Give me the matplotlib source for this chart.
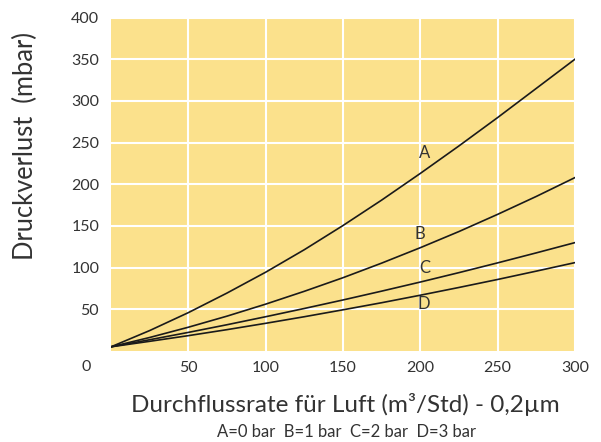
import matplotlib
matplotlib.use("Agg")
import matplotlib.pyplot as plt

plt.rcParams['font.family'] = ['Lato', 'DejaVu Sans']

# Durchflussrate (m3/Std) and Druckverlust (mbar) per pressure curve
flow = [0, 25, 50, 75, 100, 125, 150, 175, 200, 225, 250, 275, 300]
curve_a = [5, 24.5, 46, 69.5, 94.5, 121.5, 150.5, 181, 213, 246, 280, 315, 350]
curve_b = [5, 16.2, 28.5, 41.8, 56.2, 71.6, 87.9, 105.4, 123.9, 143.3, 163.9, 185.4, 208]
curve_c = [5, 13.5, 22.3, 31.5, 41.1, 51, 61.2, 71.8, 82.7, 94, 105.7, 117.7, 130]
curve_d = [5, 11.6, 18.4, 25.6, 33.2, 41.1, 49.4, 57.9, 66.9, 76.2, 85.8, 95.8, 106]
curve_names = ['A', 'B', 'C', 'D']
label_pos = [(203, 237), (200, 140), (203, 99), (202, 56)]

x_ticks = [50, 100, 150, 200, 250, 300]
y_ticks = [50, 100, 150, 200, 250, 300, 350, 400]

text_col = '#333333'

fig = plt.figure(figsize=(6.01, 4.42), dpi=100)
ax = fig.add_axes([0.1847, 0.2059, 0.7720, 0.7545])
ax.set_facecolor('#fbe18c')

for ys in [curve_a, curve_b, curve_c, curve_d]:
    ax.plot(flow, ys, color='#1a1a1a', lw=1.2, zorder=3)

for name, (lx, ly) in zip(curve_names, label_pos):
    ax.text(lx, ly, name, color=text_col, fontsize=12, ha='center', va='center', zorder=4)

ax.set_xlim(0, 300)
ax.set_ylim(0, 400)
ax.set_xticks(x_ticks)
ax.set_yticks(y_ticks)
ax.grid(True, color='white', lw=1.5)
ax.set_axisbelow(True)
for s in ax.spines.values():
    s.set_visible(False)
ax.tick_params(length=0, labelsize=11.5, labelcolor=text_col)
ax.tick_params(axis='x', pad=7)
ax.tick_params(axis='y', pad=8.5)

# origin label sits off the corner
ax.annotate('0', xy=(0, 0), xycoords='axes fraction', xytext=(-25, -16),
            textcoords='offset pixels', ha='center', va='center',
            fontsize=11.5, color=text_col)

fig.text(0.043, 0.67, 'Druckverlust  (mbar)', rotation=90,
         ha='center', va='center', fontsize=18.4, color=text_col)
fig.text(0.575, 0.084, 'Durchflussrate für Luft (m³/Std) - 0,2µm',
         ha='center', va='center', fontsize=17.5, color=text_col)
fig.text(0.576, 0.023, 'A=0 bar  B=1 bar  C=2 bar  D=3 bar',
         ha='center', va='center', fontsize=12, color=text_col)

fig.savefig('out.png', dpi=100)
